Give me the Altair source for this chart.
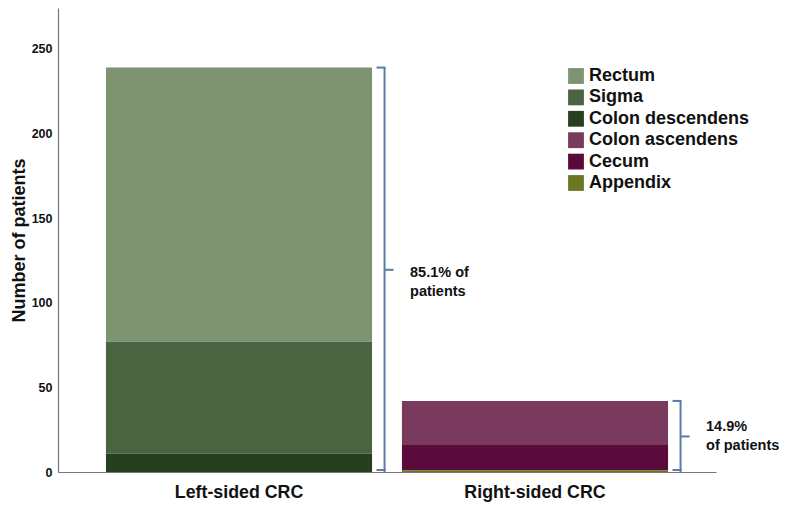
import altair as alt
import pandas as pd

# ---- data ----
groups = ["Left-sided CRC", "Left-sided CRC", "Left-sided CRC",
          "Right-sided CRC", "Right-sided CRC", "Right-sided CRC"]
sites = ["Rectum", "Sigma", "Colon descendens", "Colon ascendens", "Cecum", "Appendix"]
counts = [162, 66, 11, 26, 15, 1]
stack_rank = [2, 1, 0, 2, 1, 0]  # 0 = bottom of the stack
site_colors = ["#7D9372", "#4A6341", "#263F1E", "#7A3A5E", "#5A0A3B", "#6D7722"]

group_names = ["Left-sided CRC", "Right-sided CRC"]
group_totals = [239, 42]
group_labels = ["85.1% of\npatients", "14.9%\nof patients"]
label_y = [117.5, 26.5]

y_ticks = [0, 50, 100, 150, 200, 250]

bars_df = pd.DataFrame({"group": groups, "site": sites, "count": counts, "rank": stack_rank})
brace_df = pd.DataFrame({
    "group": group_names,
    "lo": [0, 0],
    "hi": group_totals,
    "mid": [t / 2 for t in group_totals],
    "label": group_labels,
    "ly": label_y,
})

FONT = "Liberation Sans"
BRACE = "#5B7BA6"

x_enc = alt.X(
    "group:N",
    sort=group_names,
    scale=alt.Scale(paddingInner=0.101, paddingOuter=0.162),
    axis=alt.Axis(title=None, labelAngle=0, labelFontSize=17.8, labelFontWeight="bold",
                  labelColor="#111", labelPadding=11, ticks=False,
                  domainColor="#777", domainWidth=1.2),
)
y_scale = alt.Scale(domain=[0, 274.2], nice=False, zero=True)

bars = alt.Chart(bars_df).mark_bar(strokeWidth=0).encode(
    x=x_enc,
    y=alt.Y("count:Q", stack="zero", scale=y_scale,
            axis=alt.Axis(title="Number of patients", values=y_ticks, grid=False, ticks=False,
                          labelFontSize=12.5, labelFontWeight="bold", labelColor="#111",
                          labelPadding=6, titleFontSize=18, titleFontWeight="bold",
                          titleColor="#111", titlePadding=3,
                          domainColor="#777", domainWidth=1.2)),
    color=alt.Color("site:N", sort=sites,
                    scale=alt.Scale(domain=sites, range=site_colors),
                    legend=alt.Legend(title=None, orient="none", legendX=509, legendY=59,
                                      symbolType="square", symbolSize=250,
                                      symbolStrokeWidth=0, labelFontSize=18,
                                      labelFontWeight="bold", labelColor="#111",
                                      labelLimit=400,
                                      labelOffset=4, rowPadding=3.4, padding=0)),
    order=alt.Order("rank:Q", sort="ascending"),
)

xb = alt.X("group:N", sort=group_names, bandPosition=1)
xb2 = alt.X2("group:N", bandPosition=1)

vert = alt.Chart(brace_df).mark_rule(color=BRACE, strokeWidth=2, xOffset=12.5).encode(
    x=xb, y=alt.Y("lo:Q", scale=y_scale), y2="hi:Q")
top_hook = alt.Chart(brace_df).mark_rule(color=BRACE, strokeWidth=2, xOffset=4.5, x2Offset=13.5).encode(
    x=xb, x2=xb2, y=alt.Y("hi:Q", scale=y_scale))
bot_hook = alt.Chart(brace_df).mark_rule(color=BRACE, strokeWidth=2, xOffset=4.5, x2Offset=13.5,
                                         yOffset=-2).encode(
    x=xb, x2=xb2, y=alt.Y("lo:Q", scale=y_scale))
tip = alt.Chart(brace_df).mark_rule(color=BRACE, strokeWidth=2, xOffset=12.5, x2Offset=21.5).encode(
    x=xb, x2=xb2, y=alt.Y("mid:Q", scale=y_scale))

texts = alt.Chart(brace_df).mark_text(
    align="left", baseline="middle", dx=38, fontSize=14.5, fontWeight="bold",
    color="#111", lineBreak="\n", lineHeight=18.5, font=FONT,
).encode(x=xb, y=alt.Y("ly:Q", scale=y_scale), text="label:N")

chart = alt.layer(bars, vert, top_hook, bot_hook, tip, texts).properties(
    width=658, height=464,
    autosize=alt.AutoSizeParams(type="none"),
    padding={"left": 50, "top": 0, "right": 63, "bottom": 33},
).configure(font=FONT).configure_view(strokeWidth=0, stroke="transparent")

chart.save("out.html", embed_options={"renderer": "svg", "actions": False})
